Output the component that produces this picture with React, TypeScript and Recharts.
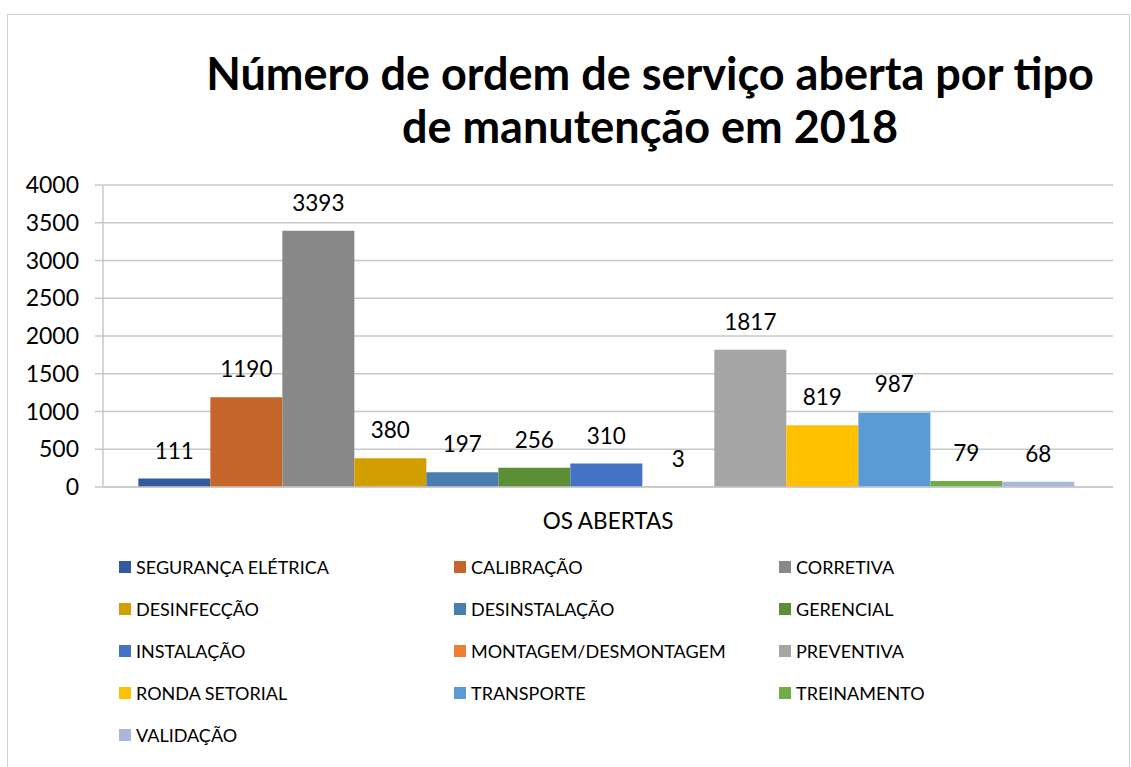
import React from 'react';
import { BarChart, Bar, XAxis, YAxis, CartesianGrid, LabelList } from 'recharts';

const CATEGORIES = ['OS ABERTAS'];

const SERIES_NAMES = [
  'SEGURANÇA ELÉTRICA',
  'CALIBRAÇÃO',
  'CORRETIVA',
  'DESINFECÇÃO',
  'DESINSTALAÇÃO',
  'GERENCIAL',
  'INSTALAÇÃO',
  'MONTAGEM/DESMONTAGEM',
  'PREVENTIVA',
  'RONDA SETORIAL',
  'TRANSPORTE',
  'TREINAMENTO',
  'VALIDAÇÃO',
];

const SERIES_VALUES = [111, 1190, 3393, 380, 197, 256, 310, 3, 1817, 819, 987, 79, 68];

const SERIES_COLORS = [
  '#335AA1', '#C5652A', '#888888', '#D29F00', '#4A7EB0', '#5C8E36', '#4472C4',
  '#ED7D31', '#A5A5A5', '#FFC000', '#5B9BD5', '#70AD47', '#A9B7DC',
];

const Y_TICKS = [0, 500, 1000, 1500, 2000, 2500, 3000, 3500, 4000];

const TITLE = ['Número de ordem de serviço aberta por tipo', 'de manutenção em 2018'];

const FONT = 'Lato, "Open Sans", sans-serif';

const data = CATEGORIES.map(c => {
  const row: Record<string, string | number> = { name: c };
  SERIES_NAMES.forEach((s, i) => { row[s] = SERIES_VALUES[i]; });
  return row;
});

const App: React.FC = () => {
  return (
    <div style={{ position: 'fixed', left: 0, top: 0, width: 1131, height: 767, background: '#fff', fontFamily: FONT, overflow: 'hidden' }}>
      <div style={{ position: 'absolute', left: 7, top: 14, width: 1121, height: 770, border: '1px solid #d0d0d0' }} />
      <div style={{ position: 'absolute', left: 100, width: 1100, top: 47, textAlign: 'center', fontWeight: 700, fontSize: 45, lineHeight: '53px', color: '#000' }}>
        {TITLE.map(t => <div key={t}>{t}</div>)}
      </div>
      <div style={{ position: 'absolute', left: 0, top: 0 }}>
        <BarChart
          width={1131}
          height={767}
          data={data}
          margin={{ top: 185, right: 18, bottom: 250, left: 0 }}
          barGap={0}
          barCategoryGap="3.5%"
        >
          <CartesianGrid vertical={false} stroke="#c8c8c8" strokeWidth={1.5} />
          <XAxis
            dataKey="name"
            height={30}
            tickLine={false}
            axisLine={{ stroke: '#c8c8c8', strokeWidth: 1.5 }}
            tick={{ fill: '#000', fontSize: 22.5, fontFamily: FONT }}
            tickMargin={20}
          />
          <YAxis
            width={103}
            domain={[0, 4000]}
            ticks={Y_TICKS}
            interval={0}
            tickSize={8}
            tickMargin={16}
            tickLine={{ stroke: '#c8c8c8', strokeWidth: 1.5 }}
            axisLine={{ stroke: '#c8c8c8', strokeWidth: 1.5 }}
            tick={{ fill: '#000', fontSize: 23, fontFamily: FONT }}
          />
          {SERIES_NAMES.map((s, i) => (
            <Bar key={s} dataKey={s} fill={SERIES_COLORS[i]} isAnimationActive={false}>
              <LabelList dataKey={s} position="top" offset={20} fill="#000" fontSize={22.5} fontFamily={FONT} />
            </Bar>
          ))}
        </BarChart>
      </div>
      {SERIES_NAMES.map((s, i) => {
        const col = i % 3;
        const row = Math.floor(i / 3);
        const left = [119, 454, 779][col];
        const top = 567 + row * 42;
        return (
          <div key={s} style={{ position: 'absolute', left, top: top - 11, height: 22, display: 'flex', alignItems: 'center', fontSize: 18, color: '#000', whiteSpace: 'nowrap' }}>
            <span style={{ display: 'inline-block', width: 12, height: 12, background: SERIES_COLORS[i], marginRight: 5 }} />
            {s}
          </div>
        );
      })}
    </div>
  );
};

export default App;
